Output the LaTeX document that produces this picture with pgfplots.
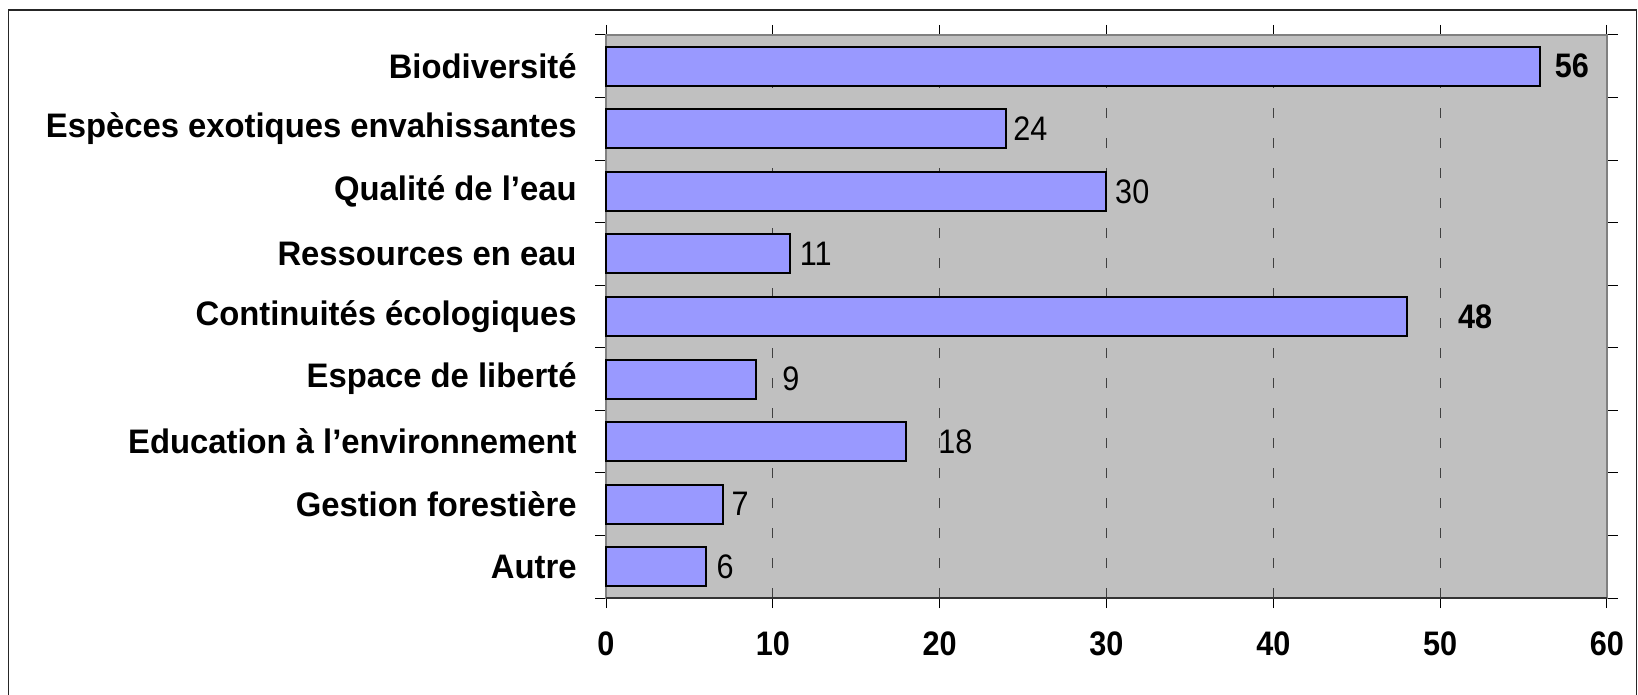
\documentclass[border=0pt]{standalone}
\usepackage{pgfplots}
\pgfplotsset{compat=1.18}
\usepackage{fontspec}
\setmainfont{Liberation Sans}
\newfontfamily\numfont[FakeStretch=0.9]{Liberation Sans}
\newfontfamily\catfont[FakeStretch=0.965]{Liberation Sans}
\definecolor{barfill}{HTML}{9999FF}
\definecolor{plotbg}{HTML}{C0C0C0}
\begin{document}
\begin{tikzpicture}
\useasboundingbox (0,0) rectangle (819bp,347.5bp);
\draw[black!85, line width=0.7bp] (4.1bp,-10bp) -- (4.1bp,342.5bp) -- (818.2bp,342.5bp) -- (818.2bp,-10bp);
\begin{axis}[
  at={(303bp,48.5bp)}, anchor=south west,
  scale only axis, width=500.5bp, height=281.5bp,
  xmin=0, xmax=60, ymin=-0.5, ymax=8.5,
  xtick={0,10,...,60},
  ytick={0,...,8},
  yticklabels={Autre, Gestion forestière, Education à l’environnement, {Espace de liberté\hspace{4.5bp}}, Continuités écologiques, {Ressources en eau\hspace{3bp}}, {Qualité de l’eau\hspace{3bp}}, Espèces exotiques envahissantes, Biodiversité},
  minor ytick={-0.5,0.5,...,8.5},
  tick align=outside,
  major tick length=5bp, minor tick length=5.5bp,
  major y tick style={draw=none},
  tick style={black, line width=0.5bp},
  axis background/.style={fill=plotbg},
  axis line style={draw=black!50, line width=0.8bp},
  xmajorgrids,
  major x grid style={black!75, line width=0.6bp, dash pattern=on 5bp off 10bp},
  /pgf/number format/assume math mode=true,
  xticklabel style={font=\numfont\fontsize{17bp}{19bp}\selectfont\bfseries, yshift=-8.5bp},
  yticklabel style={font=\catfont\fontsize{17bp}{19bp}\selectfont\bfseries, inner sep=0pt, xshift=-9.5bp},
  clip=false,
]
\addplot[xbar, bar width=19.5bp, fill=barfill, draw=black, line width=1bp] coordinates {
(56,8) (24,7) (30,6) (11,5) (48,4) (9,3) (18,2) (7,1) (6,0)
};
\draw[black!80, line width=0.8bp] (rel axis cs:0,0) -- (rel axis cs:1,0);
\addplot[draw=none, mark=none, nodes near coords, point meta=explicit symbolic,
  nodes near coords align=horizontal,
  every node near coord/.append style={anchor=west, inner sep=0pt, font=\numfont\fontsize{17bp}{19bp}\selectfont\bfseries}]
  table[meta=lbl] {
x y lbl
56.85 8 56
51.05 4 48
};
\addplot[draw=none, mark=none, nodes near coords, point meta=explicit symbolic,
  nodes near coords align=horizontal,
  every node near coord/.append style={anchor=west, inner sep=0pt, font=\numfont\fontsize{17bp}{19bp}\selectfont}]
  table[meta=lbl] {
x y lbl
24.4 7 24
30.5 6 30
11.6 5 11
10.55 3 9
19.9 2 18
7.5 1 7
6.6 0 6
};
\end{axis}
\end{tikzpicture}
\end{document}
